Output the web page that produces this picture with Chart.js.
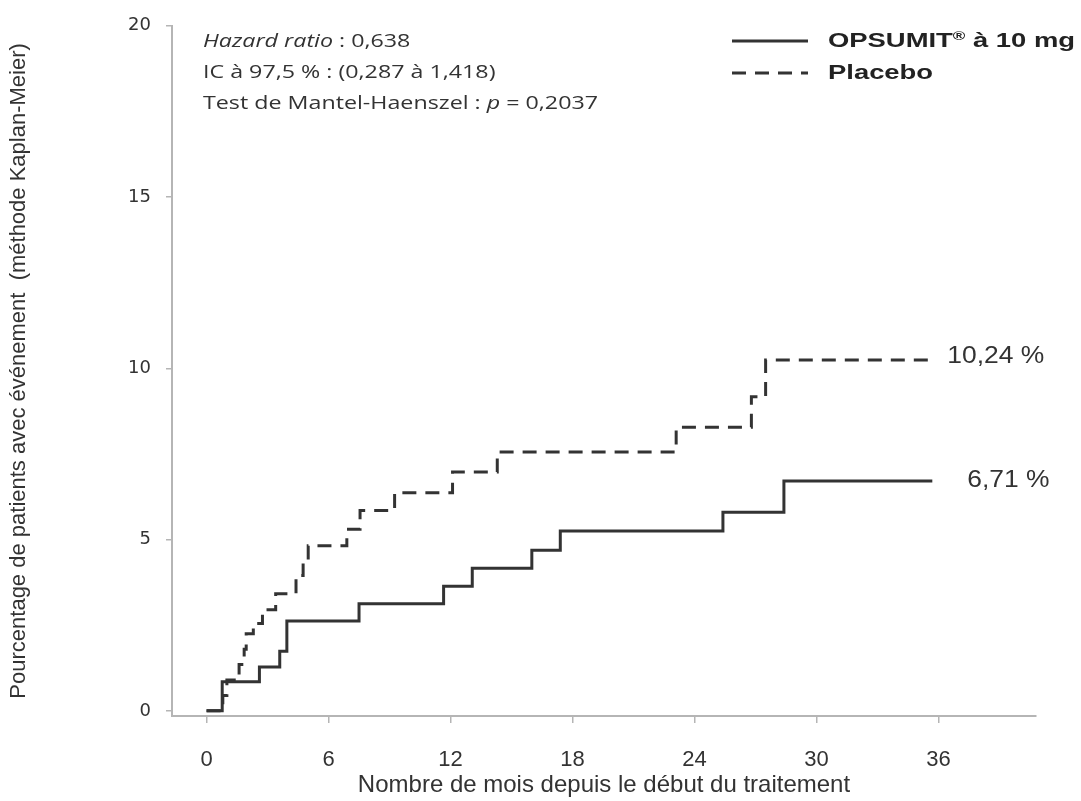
<!DOCTYPE html>
<html>
<head>
<meta charset="utf-8">
<script src="https://cdn.jsdelivr.net/npm/chart.js@4.4.1/dist/chart.umd.min.js"></script>
<style>
  body { margin: 0; background: #fff; }
  canvas { display: block; }
</style>
</head>
<body>
<canvas id="kmChart" width="1081" height="801"></canvas>
<script>
// Kaplan-Meier data (months, % with event)
const opsumitMonths = [0, 0.77, 2.6, 3.6, 3.95, 7.5, 11.66, 13.07, 16.0, 17.4, 25.4, 28.4, 35.7];
const opsumitPct    = [0, 0.85, 1.28, 1.74, 2.62, 3.13, 3.64, 4.16, 4.69, 5.25, 5.8, 6.71, 6.71];

const placeboMonths = [0, 0.8, 1.0, 1.6, 1.85, 1.95, 2.3, 2.75, 3.4, 4.4, 4.75, 5.0, 6.9, 7.55, 9.25, 12.1, 14.3, 23.1, 26.8, 27.5, 35.8];
const placeboPct    = [0, 0.45, 0.9, 1.35, 1.8, 2.25, 2.55, 2.95, 3.42, 3.95, 4.4, 4.82, 5.3, 5.85, 6.37, 6.97, 7.56, 8.28, 9.17, 10.24, 10.24];

const xTickValues = [0, 6, 12, 18, 24, 30, 36];
const yTickValues = [0, 5, 10, 15, 20];

const seriesNames = ['OPSUMIT\u00ae à 10 mg', 'Placebo'];
const statLines = [
    [{ t: 'Hazard ratio', i: true }, { t: ' : 0,638' }],
    [{ t: 'IC à 97,5 % : (0,287 à 1,418)' }],
    [{ t: 'Test de Mantel-Haenszel : ' }, { t: 'p', i: true }, { t: ' = 0,2037' }]
];

const lineColor = '#333333';
const axisColor = '#b5b5b5';
const narrow = '"Liberation Sans", Arial, sans-serif';

function toPoints(xs, ys) {
    return xs.map((x, i) => ({ x: x, y: ys[i] }));
}

// parts: [{t, font, dy}] drawn one after another, stretched horizontally by sx
function partsWidth(ctx, parts) {
    let w = 0;
    parts.forEach(p => { ctx.font = p.font; w += ctx.measureText(p.t).width; });
    return w;
}
function drawParts(ctx, parts, x, y, sx) {
    ctx.save();
    ctx.translate(x, y);
    ctx.scale(sx, 1);
    let cx = 0;
    parts.forEach(p => {
        ctx.font = p.font;
        ctx.fillText(p.t, cx, p.dy || 0);
        cx += ctx.measureText(p.t).width;
    });
    ctx.restore();
}

// legend, stats text and end-of-curve labels
const annotations = {
    id: 'annotations',
    afterDraw(chart) {
        const ctx = chart.ctx;
        const xs = chart.scales.x, ys = chart.scales.y;
        ctx.save();
        ctx.fillStyle = '#333';
        ctx.textBaseline = 'middle';

        // stats block
        const statFont = i => (i ? 'italic ' : '') + '18px "Open Sans", sans-serif';
        const statParts = statLines.map(l => l.map(p => ({ t: p.t, font: statFont(p.i) })));
        const sxStat = 395 / partsWidth(ctx, statParts[2]);
        statParts.forEach((parts, k) => drawParts(ctx, parts, 203, 42 + k * 31, sxStat));

        // legend
        ctx.strokeStyle = lineColor;
        ctx.lineWidth = 3;
        ctx.beginPath();
        ctx.moveTo(732, 41); ctx.lineTo(808, 41);
        ctx.stroke();
        ctx.setLineDash([14, 9]);
        ctx.beginPath();
        ctx.moveTo(732, 73); ctx.lineTo(808, 73);
        ctx.stroke();
        ctx.setLineDash([]);
        ctx.fillStyle = '#222';
        const bold = 'bold 21px "Liberation Sans", Arial, sans-serif';
        const sup = 'bold 13px "Liberation Sans", Arial, sans-serif';
        const name0 = seriesNames[0].split('\u00ae');
        const legParts = [
            { t: name0[0], font: bold },
            { t: '\u00ae', font: sup, dy: -5 },
            { t: name0[1], font: bold }
        ];
        const sxLeg = 247 / partsWidth(ctx, legParts);
        drawParts(ctx, legParts, 828, 41, sxLeg);
        drawParts(ctx, [{ t: seriesNames[1], font: bold }], 828, 73, sxLeg);

        // final values next to each curve
        ctx.fillStyle = '#333';
        const endFont = '23px "Liberation Sans", Arial, sans-serif';
        const fmt = v => v.toFixed(2).replace('.', ',') + ' %';
        const pl = placeboPct[placeboPct.length - 1];
        const op = opsumitPct[opsumitPct.length - 1];
        const plParts = [{ t: fmt(pl), font: endFont }];
        const sxEnd = 97 / partsWidth(ctx, plParts);
        drawParts(ctx, plParts, xs.getPixelForValue(placeboMonths[placeboMonths.length - 1]) + 13, ys.getPixelForValue(pl) - 3, sxEnd);
        drawParts(ctx, [{ t: fmt(op), font: endFont }], xs.getPixelForValue(opsumitMonths[opsumitMonths.length - 1]) + 35, ys.getPixelForValue(op), sxEnd);
        ctx.restore();
    }
};

new Chart(document.getElementById('kmChart').getContext('2d'), {
    type: 'line',
    data: {
        datasets: [
            {
                label: seriesNames[0],
                data: toPoints(opsumitMonths, opsumitPct),
                borderColor: lineColor,
                borderWidth: 3,
                stepped: 'before',
                pointRadius: 0,
                fill: false
            },
            {
                label: seriesNames[1],
                data: toPoints(placeboMonths, placeboPct),
                borderColor: lineColor,
                borderWidth: 3,
                borderDash: [14, 9],
                stepped: 'before',
                pointRadius: 0,
                fill: false
            }
        ]
    },
    options: {
        responsive: false,
        animation: false,
        layout: { padding: { top: 22, right: 45, left: 0, bottom: 0 } },
        plugins: { legend: { display: false }, tooltip: { enabled: false } },
        scales: {
            x: {
                type: 'linear',
                min: -1.7,
                max: 40.8,
                afterBuildTicks: s => { s.ticks = xTickValues.map(v => ({ value: v })); },
                afterFit: s => { s.height = 85; },
                border: { color: axisColor, width: 2 },
                grid: { drawOnChartArea: false, color: axisColor, tickLength: 7, lineWidth: 1.5 },
                ticks: { color: '#333', padding: 24, font: { family: narrow, size: 22 } },
                title: {
                    display: true,
                    text: 'Nombre de mois depuis le début du traitement',
                    color: '#333',
                    font: { family: narrow, size: 24 },
                    padding: { top: 0, bottom: 1 }
                }
            },
            y: {
                type: 'linear',
                min: -0.15,
                max: 20,
                afterBuildTicks: s => { s.ticks = yTickValues.map(v => ({ value: v })); },
                afterFit: s => { s.width = 172; },
                border: { color: axisColor, width: 2 },
                grid: { drawOnChartArea: false, color: axisColor, tickLength: 6, lineWidth: 1.5 },
                ticks: { color: '#333', padding: 15, font: { family: '"DejaVu Sans", sans-serif', size: 18 } },
                title: {
                    display: true,
                    text: 'Pourcentage de patients avec événement  (méthode Kaplan-Meier)',
                    color: '#333',
                    font: { family: narrow, size: 22 },
                    padding: { top: 6, bottom: 0 }
                }
            }
        }
    },
    plugins: [annotations]
});
</script>
</body>
</html>
